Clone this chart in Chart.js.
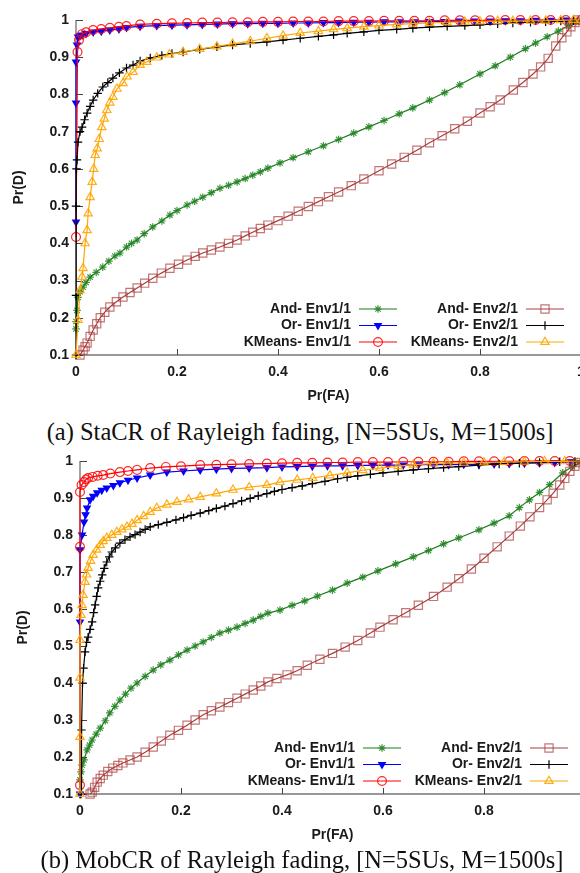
<!DOCTYPE html>
<html>
<head>
<meta charset="utf-8">
<script src="https://cdn.jsdelivr.net/npm/chart.js"></script>
<style>
  html, body { margin: 0; padding: 0; background: #fff; overflow: hidden; width: 580px; height: 873px; }
  .panel { position: absolute; left: 0; width: 600px; height: 410px; }
  .caption {
    position: absolute; width: 600px; text-align: center; white-space: nowrap;
    font-family: 'Liberation Serif', 'Times New Roman', serif; font-size: 24.5px; color: #111;
  }
</style>
</head>
<body>
<div class="panel" style="top:0px"><canvas id="staChart" width="600" height="410"></canvas></div>
<div class="caption" style="top:418px; left:0px">(a) StaCR of Rayleigh fading, [N=5SUs, M=1500s]</div>
<div class="panel" style="top:440px"><canvas id="mobChart" width="600" height="410"></canvas></div>
<div class="caption" style="top:846px; left:2px">(b) MobCR of Rayleigh fading, [N=5SUs, M=1500s]</div>

<script>
// tick values and labels
const xTicks = [0, 0.2, 0.4, 0.6, 0.8, 1];
const xTickLabels = ['0', '0.2', '0.4', '0.6', '0.8', '1'];
const yTicks = [0.1, 0.2, 0.3, 0.4, 0.5, 0.6, 0.7, 0.8, 0.9, 1];
const yTickLabels = ['0.1', '0.2', '0.3', '0.4', '0.5', '0.6', '0.7', '0.8', '0.9', '1'];

const seriesLabels = ['And- Env1/1', 'Or- Env1/1', 'KMeans- Env1/1', 'And- Env2/1', 'Or- Env2/1', 'KMeans- Env2/1'];

// (a) StaCR : [Pr(FA), Pr(D)]
const staAndEnv1 = [[0,0.17],[0,0.19],[0.002,0.22],[0.004,0.255],[0.008,0.27],[0.014,0.282],[0.02,0.295],[0.028,0.309],[0.04,0.322],[0.053,0.336],[0.065,0.352],[0.077,0.366],[0.087,0.374],[0.1,0.39],[0.11,0.4],[0.121,0.409],[0.135,0.426],[0.152,0.444],[0.17,0.46],[0.186,0.476],[0.2,0.488],[0.22,0.503],[0.235,0.513],[0.251,0.524],[0.268,0.536],[0.285,0.548],[0.302,0.556],[0.319,0.565],[0.335,0.574],[0.35,0.583],[0.365,0.592],[0.38,0.602],[0.404,0.616],[0.43,0.63],[0.46,0.646],[0.49,0.662],[0.52,0.679],[0.55,0.696],[0.58,0.713],[0.61,0.73],[0.64,0.748],[0.667,0.764],[0.7,0.785],[0.73,0.805],[0.76,0.826],[0.8,0.855],[0.83,0.877],[0.86,0.9],[0.89,0.923],[0.91,0.938],[0.933,0.955],[0.955,0.97],[0.975,0.985],[0.99,0.995],[1,1]];
const staOrEnv1 = [[0,0.457],[0,0.777],[0,0.887],[0.002,0.933],[0.004,0.954],[0.008,0.958],[0.012,0.96],[0.02,0.964],[0.034,0.968],[0.05,0.97],[0.067,0.973],[0.085,0.976],[0.1,0.98],[0.127,0.983],[0.16,0.985],[0.19,0.986],[0.22,0.987],[0.25,0.988],[0.28,0.989],[0.31,0.99],[0.34,0.99],[0.37,0.991],[0.4,0.991],[0.43,0.992],[0.46,0.992],[0.49,0.993],[0.52,0.993],[0.55,0.994],[0.58,0.994],[0.61,0.995],[0.64,0.995],[0.67,0.995],[0.7,0.996],[0.73,0.996],[0.76,0.997],[0.79,0.997],[0.82,0.997],[0.85,0.998],[0.88,0.998],[0.91,0.999],[0.94,0.999],[0.97,1],[1,1]];
const staKMeansEnv1 = [[0,0.417],[0.003,0.914],[0.006,0.946],[0.012,0.962],[0.02,0.967],[0.034,0.973],[0.05,0.976],[0.067,0.979],[0.085,0.982],[0.1,0.984],[0.127,0.988],[0.16,0.99],[0.19,0.991],[0.22,0.992],[0.25,0.993],[0.28,0.993],[0.31,0.994],[0.34,0.994],[0.37,0.995],[0.4,0.995],[0.43,0.996],[0.46,0.996],[0.49,0.996],[0.52,0.997],[0.55,0.997],[0.58,0.997],[0.61,0.998],[0.64,0.998],[0.67,0.998],[0.7,0.998],[0.73,0.999],[0.76,0.999],[0.79,0.999],[0.82,0.999],[0.85,1],[0.88,1],[0.91,1],[0.94,1],[0.97,1],[1,1]];
const staAndEnv2 = [[0.008,0.1],[0.014,0.113],[0.018,0.122],[0.022,0.132],[0.028,0.15],[0.034,0.167],[0.041,0.184],[0.048,0.2],[0.057,0.215],[0.067,0.229],[0.08,0.243],[0.093,0.256],[0.107,0.268],[0.121,0.28],[0.136,0.293],[0.152,0.306],[0.169,0.32],[0.186,0.333],[0.203,0.344],[0.22,0.355],[0.236,0.365],[0.251,0.374],[0.268,0.382],[0.285,0.39],[0.302,0.4],[0.319,0.409],[0.335,0.42],[0.35,0.43],[0.365,0.44],[0.38,0.449],[0.4,0.461],[0.42,0.473],[0.44,0.486],[0.46,0.499],[0.48,0.512],[0.5,0.525],[0.52,0.538],[0.545,0.555],[0.57,0.573],[0.6,0.595],[0.625,0.613],[0.65,0.631],[0.675,0.65],[0.7,0.67],[0.725,0.689],[0.75,0.708],[0.775,0.728],[0.8,0.75],[0.82,0.767],[0.84,0.785],[0.866,0.812],[0.885,0.832],[0.905,0.855],[0.92,0.874],[0.935,0.897],[0.95,0.93],[0.962,0.952],[0.972,0.968],[0.98,0.982],[0.988,0.993],[0.995,1]];
const staOrEnv2 = [[0,0.1],[0,0.26],[0,0.5],[0.001,0.6],[0.002,0.624],[0.004,0.672],[0.008,0.7],[0.012,0.712],[0.017,0.732],[0.022,0.75],[0.028,0.768],[0.034,0.785],[0.043,0.803],[0.053,0.82],[0.063,0.832],[0.073,0.844],[0.086,0.858],[0.1,0.871],[0.113,0.879],[0.127,0.89],[0.147,0.898],[0.17,0.905],[0.19,0.91],[0.212,0.914],[0.245,0.921],[0.279,0.928],[0.31,0.933],[0.345,0.937],[0.378,0.941],[0.41,0.946],[0.444,0.951],[0.48,0.956],[0.51,0.96],[0.537,0.964],[0.57,0.968],[0.6,0.972],[0.635,0.975],[0.667,0.978],[0.7,0.981],[0.735,0.983],[0.77,0.985],[0.8,0.987],[0.835,0.99],[0.865,0.992],[0.9,0.994],[0.93,0.995],[0.96,0.997],[0.985,0.998],[1,1]];
const staKMeansEnv2 = [[0,0.1],[0.004,0.194],[0.008,0.274],[0.012,0.31],[0.014,0.333],[0.018,0.4],[0.022,0.435],[0.024,0.48],[0.028,0.524],[0.032,0.565],[0.035,0.6],[0.038,0.637],[0.042,0.655],[0.046,0.68],[0.051,0.712],[0.056,0.735],[0.061,0.758],[0.067,0.778],[0.073,0.793],[0.081,0.815],[0.093,0.83],[0.101,0.848],[0.113,0.86],[0.127,0.879],[0.14,0.887],[0.16,0.899],[0.185,0.907],[0.212,0.914],[0.245,0.922],[0.279,0.929],[0.31,0.936],[0.345,0.943],[0.378,0.951],[0.41,0.958],[0.444,0.965],[0.48,0.97],[0.51,0.975],[0.537,0.978],[0.57,0.982],[0.6,0.985],[0.635,0.988],[0.667,0.99],[0.7,0.992],[0.735,0.994],[0.77,0.995],[0.8,0.996],[0.835,0.997],[0.865,0.997],[0.9,0.998],[0.93,0.998],[0.96,0.999],[0.985,1],[1,1]];

// (b) MobCR : [Pr(FA), Pr(D)]
const mobAndEnv1 = [[0,0.138],[0.002,0.16],[0.004,0.178],[0.008,0.192],[0.014,0.219],[0.019,0.232],[0.024,0.246],[0.032,0.262],[0.04,0.278],[0.05,0.298],[0.059,0.319],[0.069,0.337],[0.079,0.354],[0.09,0.37],[0.101,0.386],[0.113,0.4],[0.129,0.418],[0.145,0.435],[0.16,0.449],[0.178,0.462],[0.195,0.476],[0.212,0.489],[0.228,0.5],[0.244,0.511],[0.26,0.523],[0.277,0.535],[0.294,0.543],[0.311,0.551],[0.327,0.561],[0.343,0.57],[0.358,0.58],[0.372,0.589],[0.396,0.597],[0.42,0.61],[0.445,0.622],[0.47,0.635],[0.5,0.651],[0.529,0.67],[0.56,0.686],[0.59,0.703],[0.625,0.722],[0.66,0.741],[0.69,0.758],[0.72,0.776],[0.75,0.792],[0.79,0.814],[0.82,0.832],[0.85,0.852],[0.87,0.874],[0.89,0.895],[0.91,0.915],[0.93,0.936],[0.956,0.968],[0.975,0.985],[0.99,0.996],[1,1]];
const mobOrEnv1 = [[0,0.1],[0,0.565],[0,0.76],[0.004,0.8],[0.008,0.835],[0.011,0.855],[0.014,0.873],[0.02,0.895],[0.026,0.905],[0.034,0.914],[0.043,0.921],[0.053,0.927],[0.066,0.934],[0.079,0.941],[0.095,0.948],[0.113,0.954],[0.139,0.962],[0.172,0.97],[0.205,0.973],[0.238,0.976],[0.27,0.978],[0.3,0.98],[0.335,0.981],[0.37,0.982],[0.4,0.984],[0.43,0.985],[0.46,0.986],[0.49,0.987],[0.52,0.987],[0.55,0.988],[0.58,0.988],[0.61,0.989],[0.64,0.989],[0.67,0.99],[0.7,0.99],[0.73,0.99],[0.76,0.991],[0.79,0.991],[0.82,0.992],[0.85,0.993],[0.88,0.994],[0.91,0.995],[0.94,0.996],[0.97,0.998],[1,1]];
const mobKMeansEnv1 = [[0,0.124],[0,0.768],[0,0.916],[0.003,0.935],[0.008,0.943],[0.012,0.95],[0.016,0.954],[0.025,0.957],[0.035,0.96],[0.046,0.962],[0.06,0.966],[0.079,0.97],[0.095,0.973],[0.113,0.976],[0.139,0.981],[0.17,0.984],[0.2,0.986],[0.238,0.989],[0.27,0.99],[0.3,0.991],[0.335,0.992],[0.37,0.993],[0.4,0.994],[0.43,0.995],[0.46,0.995],[0.49,0.996],[0.52,0.996],[0.55,0.997],[0.58,0.997],[0.61,0.997],[0.64,0.998],[0.67,0.998],[0.7,0.998],[0.73,0.998],[0.76,0.999],[0.79,0.999],[0.82,0.999],[0.85,0.999],[0.88,1],[0.91,1],[0.94,1],[0.97,1],[1,1]];
const mobAndEnv2 = [[0.02,0.1],[0.024,0.105],[0.029,0.118],[0.034,0.132],[0.04,0.142],[0.046,0.151],[0.055,0.161],[0.065,0.17],[0.075,0.177],[0.085,0.184],[0.099,0.192],[0.113,0.2],[0.129,0.213],[0.145,0.227],[0.161,0.243],[0.178,0.259],[0.195,0.272],[0.212,0.286],[0.228,0.3],[0.244,0.314],[0.26,0.325],[0.277,0.335],[0.294,0.347],[0.311,0.359],[0.327,0.37],[0.343,0.381],[0.358,0.392],[0.372,0.403],[0.39,0.412],[0.41,0.422],[0.43,0.433],[0.45,0.448],[0.475,0.464],[0.5,0.48],[0.525,0.497],[0.55,0.515],[0.575,0.535],[0.594,0.551],[0.62,0.571],[0.645,0.59],[0.67,0.61],[0.7,0.634],[0.727,0.659],[0.75,0.682],[0.775,0.708],[0.8,0.737],[0.826,0.768],[0.85,0.797],[0.872,0.824],[0.891,0.849],[0.91,0.874],[0.925,0.895],[0.937,0.913],[0.95,0.935],[0.96,0.953],[0.97,0.972],[0.98,0.986],[0.99,0.996],[1,1]];
const mobOrEnv2 = [[0.002,0.1],[0.003,0.273],[0.005,0.4],[0.007,0.44],[0.01,0.484],[0.013,0.51],[0.016,0.524],[0.02,0.545],[0.024,0.565],[0.027,0.59],[0.03,0.611],[0.033,0.634],[0.036,0.657],[0.04,0.675],[0.044,0.692],[0.048,0.71],[0.053,0.727],[0.058,0.741],[0.063,0.754],[0.07,0.765],[0.079,0.778],[0.089,0.787],[0.099,0.795],[0.109,0.801],[0.119,0.808],[0.129,0.815],[0.139,0.822],[0.155,0.828],[0.172,0.834],[0.19,0.841],[0.205,0.847],[0.22,0.853],[0.238,0.859],[0.255,0.866],[0.27,0.872],[0.287,0.878],[0.303,0.885],[0.32,0.892],[0.337,0.899],[0.353,0.906],[0.37,0.912],[0.385,0.918],[0.4,0.923],[0.42,0.928],[0.44,0.933],[0.46,0.939],[0.485,0.945],[0.51,0.952],[0.529,0.956],[0.55,0.96],[0.575,0.964],[0.6,0.968],[0.63,0.972],[0.66,0.976],[0.69,0.979],[0.72,0.982],[0.75,0.985],[0.79,0.989],[0.83,0.992],[0.87,0.994],[0.91,0.996],[0.95,0.998],[0.98,0.999],[1,1]];
const mobKMeansEnv2 = [[0,0.1],[0,0.254],[0,0.414],[0,0.516],[0.002,0.584],[0.004,0.61],[0.006,0.638],[0.01,0.673],[0.013,0.693],[0.016,0.711],[0.021,0.73],[0.026,0.746],[0.033,0.76],[0.04,0.773],[0.046,0.783],[0.053,0.792],[0.063,0.8],[0.073,0.808],[0.083,0.815],[0.093,0.822],[0.103,0.83],[0.113,0.84],[0.126,0.851],[0.139,0.862],[0.152,0.873],[0.172,0.882],[0.192,0.889],[0.215,0.896],[0.238,0.903],[0.27,0.912],[0.303,0.922],[0.335,0.929],[0.37,0.935],[0.396,0.943],[0.43,0.949],[0.461,0.954],[0.495,0.961],[0.529,0.968],[0.56,0.975],[0.594,0.981],[0.63,0.986],[0.66,0.99],[0.7,0.993],[0.727,0.994],[0.76,0.995],[0.8,0.996],[0.84,0.997],[0.88,0.998],[0.92,0.999],[0.96,0.999],[1,1]];

// gnuplot-like look for each series, same order as seriesLabels
const seriesStyles = [
  { line: '#1c7a1c', point: 'rgba(30,130,30,0.85)', pointStyle: 'star', radius: 3.8, rotation: 0, filled: false },
  { line: '#0000ff', point: '#0000ff', pointStyle: 'triangle', radius: 3.8, rotation: 180, filled: true },
  { line: '#ff0000', point: 'rgba(255,0,0,0.85)', pointStyle: 'circle', radius: 4.4, rotation: 0, filled: false },
  { line: 'rgba(160,40,40,0.9)', point: 'rgba(170,60,60,0.7)', pointStyle: 'rect', radius: 5.8, rotation: 0, filled: false },
  { line: '#000000', point: '#000000', pointStyle: 'cross', radius: 4.2, rotation: 0, filled: false },
  { line: '#ffa500', point: 'rgba(255,165,0,0.9)', pointStyle: 'triangle', radius: 4.8, rotation: 0, filled: false }
];

const tickFont = 'bold 14px "Liberation Sans", Arial, sans-serif';
const inkColor = '#1a1a1a';

function drawMarker(ctx, st, x, y) {
  ctx.save();
  ctx.strokeStyle = st.point;
  ctx.fillStyle = st.filled ? st.point : 'rgba(0,0,0,0)';
  ctx.lineWidth = 1.2;
  Chart.helpers.drawPoint(ctx, { pointStyle: st.pointStyle, rotation: st.rotation, radius: st.radius, borderWidth: 1.2 }, x, y);
  ctx.restore();
}

const gnuplotLook = {
  id: 'gnuplotLook',
  beforeDatasetsDraw(chart) {
    const { ctx, chartArea: a, scales: { x, y } } = chart;
    ctx.save();
    ctx.lineWidth = 1.2;
    ctx.strokeStyle = '#666';
    ctx.beginPath();
    ctx.moveTo(a.left, a.top);
    ctx.lineTo(a.left, a.bottom);
    ctx.stroke();
    ctx.strokeStyle = '#333';
    ctx.beginPath();
    ctx.moveTo(a.left, a.bottom);
    ctx.lineTo(a.right + 5, a.bottom);
    ctx.stroke();

    // inward ticks
    ctx.lineWidth = 1;
    ctx.strokeStyle = '#444';
    xTicks.forEach(v => {
      const px = Math.round(x.getPixelForValue(v)) + 0.5;
      ctx.beginPath(); ctx.moveTo(px, a.bottom); ctx.lineTo(px, a.bottom - 6); ctx.stroke();
    });
    yTicks.forEach(v => {
      const py = Math.round(y.getPixelForValue(v)) + 0.5;
      ctx.beginPath(); ctx.moveTo(a.left, py); ctx.lineTo(a.left + 7, py); ctx.stroke();
    });
    ctx.restore();
  },
  afterDraw(chart) {
    const { ctx, chartArea: a, scales: { x, y } } = chart;
    ctx.save();
    ctx.fillStyle = inkColor;
    ctx.font = tickFont;

    ctx.textAlign = 'right';
    ctx.textBaseline = 'middle';
    yTicks.forEach((v, i) => ctx.fillText(yTickLabels[i], a.left - 7, y.getPixelForValue(v)));

    ctx.textAlign = 'center';
    xTicks.forEach((v, i) => ctx.fillText(xTickLabels[i], x.getPixelForValue(v), a.bottom + 17));

    // axis titles
    ctx.fillText('Pr(FA)', (a.left + a.right) / 2, a.bottom + 41);
    ctx.save();
    ctx.translate(a.left - 57, (a.top + a.bottom) / 2);
    ctx.rotate(-Math.PI / 2);
    ctx.fillText('Pr(D)', 0, 0);
    ctx.restore();

    // key, two columns inside the bottom right of the plot
    const colText = [a.left + 275, a.left + 442];
    const colLine = [a.left + 283, a.left + 450];
    const rowY = [a.bottom - 46, a.bottom - 29.5, a.bottom - 13];
    chart.data.datasets.forEach((ds, i) => {
      const col = i < 3 ? 0 : 1;
      const row = i % 3;
      const st = seriesStyles[i];
      const yy = rowY[row];
      ctx.fillStyle = inkColor;
      ctx.textAlign = 'right';
      ctx.fillText(ds.label, colText[col], yy);
      ctx.strokeStyle = st.line;
      ctx.lineWidth = 1.2;
      ctx.beginPath();
      ctx.moveTo(colLine[col], yy);
      ctx.lineTo(colLine[col] + 38, yy);
      ctx.stroke();
      drawMarker(ctx, st, colLine[col] + 19, yy);
    });
    ctx.restore();
  }
};

function makeChart(id, seriesList, pad) {
  const datasets = seriesList.map((pts, i) => {
    const st = seriesStyles[i];
    return {
      label: seriesLabels[i],
      data: pts.map(p => ({ x: p[0], y: p[1] })),
      showLine: true,
      borderColor: st.line,
      borderWidth: 1.2,
      pointStyle: st.pointStyle,
      pointRadius: st.radius,
      pointHoverRadius: st.radius,
      pointRotation: st.rotation,
      pointBorderColor: st.point,
      pointBackgroundColor: st.filled ? st.point : 'rgba(0,0,0,0)',
      pointBorderWidth: 1.2,
      tension: 0,
      clip: false,
      order: -i
    };
  });
  return new Chart(document.getElementById(id), {
    type: 'scatter',
    data: { datasets },
    options: {
      responsive: false,
      animation: false,
      events: [],
      layout: { padding: pad },
      scales: {
        x: { type: 'linear', min: 0, max: 1, display: false },
        y: { type: 'linear', min: 0.1, max: 1, display: false }
      },
      plugins: { legend: { display: false }, tooltip: { enabled: false } }
    },
    plugins: [gnuplotLook]
  });
}

makeChart('staChart',
  [staAndEnv1, staOrEnv1, staKMeansEnv1, staAndEnv2, staOrEnv2, staKMeansEnv2],
  { left: 76, right: 19, top: 20, bottom: 55 });
makeChart('mobChart',
  [mobAndEnv1, mobOrEnv1, mobKMeansEnv1, mobAndEnv2, mobOrEnv2, mobKMeansEnv2],
  { left: 80, right: 15, top: 21, bottom: 56 });
</script>
</body>
</html>
